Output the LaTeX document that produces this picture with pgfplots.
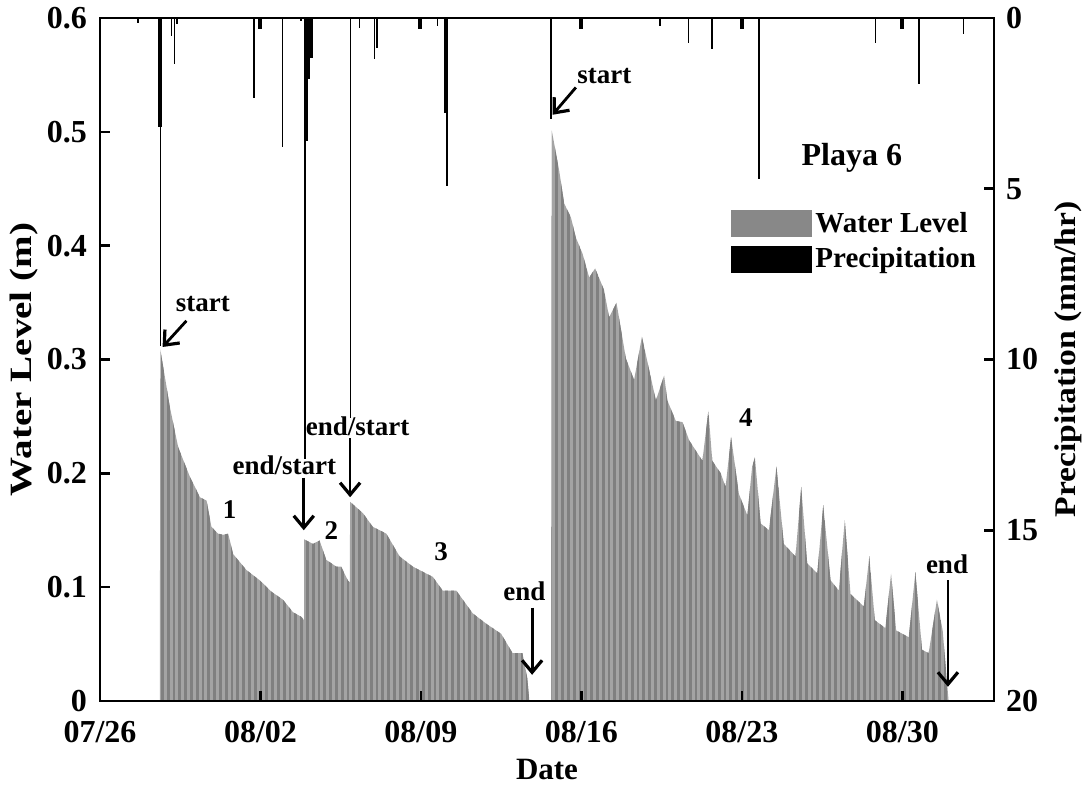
\documentclass[border=0pt]{standalone}
\usepackage{pgfplots}
\pgfplotsset{compat=1.18}
\usepackage{pgfplotstable}
\usepackage{fontspec}
\setmainfont{Liberation Serif}
\usetikzlibrary{arrows.meta,patterns.meta}
\definecolor{wlgray}{HTML}{A4A4A4}
\definecolor{wldark}{HTML}{808080}
\definecolor{leggray}{HTML}{888888}
\tikzset{annarrow/.style={line width=1.4pt, -{Straight Barb[length=6pt,width=10pt,line width=1.6pt]}}}

\pgfplotstableread{
day level
2.61 0
2.63 0.309
3.05 0.258
3.41 0.223
3.92 0.197
4.36 0.179
4.65 0.176
4.86 0.153
5.15 0.147
5.37 0.146
5.59 0.147
5.81 0.129
6.39 0.115
6.97 0.106
7.48 0.096
7.98 0.089
8.42 0.078
8.78 0.074
8.90 0.071
8.91 0.142
9.29 0.138
9.58 0.141
9.87 0.124
10.31 0.118
10.52 0.118
10.81 0.106
10.90 0.104
10.91 0.175
11.47 0.165
11.90 0.153
12.49 0.147
13.07 0.127
13.65 0.118
14.52 0.109
14.95 0.097
15.54 0.097
16.26 0.077
16.84 0.068
17.50 0.059
18.00 0.042
18.43 0.042
18.64 0.020
18.73 0
19.69 0
19.71 0.501
20.03 0.466
20.25 0.437
20.54 0.425
20.76 0.407
21.05 0.393
21.34 0.372
21.60 0.380
21.99 0.361
22.21 0.337
22.53 0.350
22.94 0.301
23.30 0.282
23.64 0.320
24.25 0.264
24.61 0.286
24.75 0.264
25.12 0.246
25.41 0.245
25.70 0.229
26.28 0.211
26.54 0.255
26.71 0.211
27.08 0.200
27.29 0.188
27.53 0.232
27.87 0.182
28.24 0.163
28.45 0.206
28.57 0.214
28.82 0.156
29.18 0.150
29.51 0.206
29.83 0.138
30.34 0.127
30.59 0.188
30.85 0.121
31.29 0.112
31.55 0.172
31.87 0.106
32.23 0.097
32.49 0.159
32.74 0.094
33.32 0.083
33.56 0.127
33.80 0.071
34.26 0.064
34.51 0.112
34.73 0.062
35.28 0.056
35.57 0.113
35.86 0.045
36.15 0.042
36.51 0.089
36.76 0.062
36.99 0.007
37.02 0
}\waterlevel

\pgfplotstableread{
day precip
1.67 0.14
2.64 9.6
3.12 0.53
3.25 1.35
3.37 0.18
6.71 2.33
7.96 3.79
8.78 0.10
8.93 12.9
10.92 11.7
11.32 0.28
11.98 1.20
12.09 0.87
14.73 0.23
15.13 4.91
19.67 2.95
24.43 0.23
25.67 0.72
26.71 0.92
28.75 4.72
33.83 0.72
35.74 1.94
37.67 0.48
}\precipthin

\pgfplotstableread{
day precip
2.60 3.2
7.00 0.33
8.99 3.6
9.08 1.8
9.19 1.16
13.98 0.33
15.10 2.77
20.98 0.33
27.99 0.33
34.99 0.33
}\precipthick

\begin{document}
\begin{tikzpicture}
\useasboundingbox (-50pt,-42.5pt) rectangle (493pt,350.5pt);
\begin{axis}[
  at={(0pt,0pt)}, anchor=south west,
  width=447pt, height=341.5pt, scale only axis,
  xmin=0, xmax=39, ymin=0, ymax=0.6,
  xtick={0,7,14,21,28,35},
  xticklabels={07/26,08/02,08/09,08/16,08/23,08/30},
  ytick={0,0.1,0.2,0.3,0.4,0.5,0.6},
  yticklabel style={/pgf/number format/fixed, xshift=-3pt},
  xticklabel style={yshift=-6.5pt},
  ytick pos=left, xtick pos=bottom,
  tick align=inside, major tick length=5pt,
  axis line style={line width=1.3pt},
  every tick/.style={black, line width=1.3pt},
  /pgf/number format/assume math mode=true,
  tick label style={font=\fontsize{16}{18}\selectfont\bfseries},
  xlabel={Date}, ylabel={\scalebox{1.26}[1]{Water Level (m)}},
  label style={font=\fontsize{15.5}{17}\selectfont\bfseries},
  xlabel style={at={(axis description cs:0.5,-0.101)}, anchor=center},
  ylabel style={at={(axis description cs:-0.085,0.5)}, anchor=center},
  axis on top,
  legend style={at={(rel axis cs:0.705,0.722)}, anchor=north west, draw=none, fill=none,
    inner sep=0pt, row sep=2pt, font=\fontsize{14.5}{16}\selectfont\bfseries,
    cells={anchor=west}},
]
\addplot[draw=none, fill=wlgray, forget plot,
  postaction={pattern={Lines[angle=90,distance=2.9pt,line width=1.4pt]}, pattern color=wldark}]
  table[x=day,y=level] {\waterlevel} \closedcycle;
\addlegendimage{legend image code/.code={\fill[leggray] (0pt,-6.5pt) rectangle (40pt,6.5pt);}}
\addlegendentry{Water Level}
\addlegendimage{legend image code/.code={\fill[black] (0pt,-6.5pt) rectangle (40pt,6.5pt);}}
\addlegendentry{Precipitation}

\node[font=\fontsize{13.5}{15}\selectfont\bfseries] at (axis cs:4.49,0.349) {start};
\draw[annarrow] (axis cs:3.77,0.334) -- (axis cs:2.73,0.311);
\node[font=\fontsize{13.5}{15}\selectfont\bfseries] at (axis cs:8.04,0.207) {end/start};
\draw[annarrow] (axis cs:8.89,0.196) -- (axis cs:8.89,0.150);
\node[font=\fontsize{13.5}{15}\selectfont\bfseries] at (axis cs:11.24,0.241) {end/start};
\draw[annarrow] (axis cs:10.91,0.231) -- (axis cs:10.91,0.179);
\node[font=\fontsize{13.5}{15}\selectfont\bfseries] at (axis cs:5.66,0.168) {1};
\node[font=\fontsize{13.5}{15}\selectfont\bfseries] at (axis cs:10.09,0.150) {2};
\node[font=\fontsize{13.5}{15}\selectfont\bfseries] at (axis cs:14.88,0.131) {3};
\node[font=\fontsize{13.5}{15}\selectfont\bfseries] at (axis cs:18.51,0.096) {end};
\draw[annarrow] (axis cs:18.85,0.082) -- (axis cs:18.85,0.023);
\node[font=\fontsize{13.5}{15}\selectfont\bfseries] at (axis cs:22.0,0.549) {start};
\draw[annarrow] (axis cs:20.76,0.539) -- (axis cs:19.74,0.515);
\node[font=\fontsize{13.5}{15}\selectfont\bfseries] at (axis cs:28.17,0.249) {4};
\node[font=\fontsize{13.5}{15}\selectfont\bfseries] at (axis cs:36.95,0.120) {end};
\draw[annarrow] (axis cs:36.99,0.106) -- (axis cs:36.99,0.0125);
\node[font=\fontsize{16}{18}\selectfont\bfseries] at (axis cs:32.80,0.477) {Playa 6};
\end{axis}

\begin{axis}[
  at={(0pt,0pt)}, anchor=south west,
  width=447pt, height=341.5pt, scale only axis,
  xmin=0, xmax=39, ymin=0, ymax=20, y dir=reverse,
  axis y line*=right, axis x line=none,
  ytick={0,5,10,15,20},
  yticklabel style={xshift=2.5pt},
  tick align=inside, major tick length=5pt,
  axis line style={line width=1.3pt},
  every tick/.style={black, line width=1.3pt},
  /pgf/number format/assume math mode=true,
  tick label style={font=\fontsize{16}{18}\selectfont\bfseries},
  ylabel={\scalebox{1.12}[1]{Precipitation (mm/hr)}},
  label style={font=\fontsize{15}{17}\selectfont\bfseries},
  ylabel style={at={(axis description cs:1.083,0.5)}, anchor=center},
]
\addplot[ycomb, black, line width=0.8pt, mark=none] table[x=day,y=precip] {\precipthin};
\addplot[ycomb, black, line width=2pt, mark=none] table[x=day,y=precip] {\precipthick};
\end{axis}
\end{tikzpicture}
\end{document}
